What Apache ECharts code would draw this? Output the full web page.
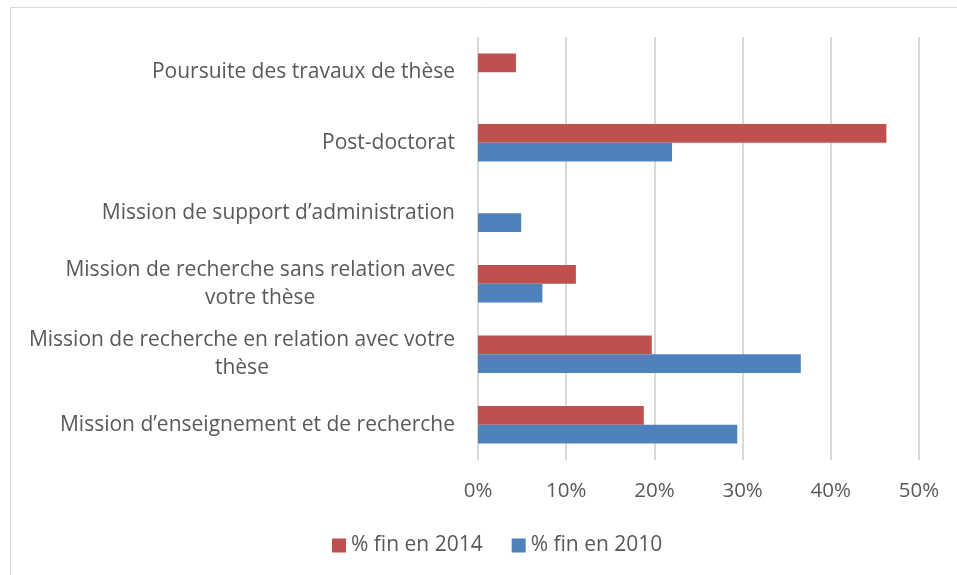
<!DOCTYPE html>
<html>
<head>
<meta charset="utf-8">
<script src="https://cdn.jsdelivr.net/npm/echarts@6/dist/echarts.min.js"></script>
<style>
  html, body { margin: 0; padding: 0; background: #fff; }
  #main { width: 957px; height: 575px; }
</style>
</head>
<body>
<div id="main"></div>
<script>
// catégories (du bas vers le haut)
var categories = [
  "Mission d\u2019enseignement et de recherche",
  "Mission de recherche en relation avec votre\nthèse",
  "Mission de recherche sans relation avec\nvotre thèse",
  "Mission de support d\u2019administration",
  "Post-doctorat",
  "Poursuite des travaux de thèse"
];
var fin2014 = [18.8, 19.7, 11.1, 0, 46.3, 4.3];
var fin2010 = [29.4, 36.6, 7.3, 4.9, 22.0, 0];
var xTicks = [0, 10, 20, 30, 40, 50];

var myChart = echarts.init(document.getElementById("main"));

var textColor = "#595959";
var font = "Open Sans";

var option = {
  animation: false,
  graphic: [
    {
      type: "rect",
      shape: { x: 10.5, y: 7.5, width: 1000, height: 700 },
      style: { fill: "none", stroke: "#d9d9d9", lineWidth: 1 },
      silent: true
    }
  ],
  legend: {
    bottom: 14,
    left: 327,
    data: ["% fin en 2014", "% fin en 2010"],
    icon: "rect",
    itemWidth: 14,
    itemHeight: 14,
    itemGap: 29,
    textStyle: { color: textColor, fontSize: 21, fontFamily: font }
  },
  grid: {
    left: 478,
    right: 38,
    top: 37,
    bottom: 115
  },
  xAxis: {
    type: "value",
    min: xTicks[0],
    max: xTicks[xTicks.length - 1],
    interval: 10,
    axisLine: { show: false },
    axisTick: { show: false },
    axisLabel: {
      color: textColor,
      fontSize: 20.5,
      fontFamily: font,
      margin: 21,
      formatter: "{value}%"
    },
    splitLine: {
      show: true,
      lineStyle: { color: "#d9d9d9", width: 2 }
    }
  },
  yAxis: {
    type: "category",
    data: categories,
    axisLine: { show: false },
    axisTick: { show: false },
    axisLabel: {
      color: textColor,
      fontSize: 21,
      fontFamily: font,
      margin: 23,
      lineHeight: 28,
      formatter: function (v) {
        return v.split("\n").map(function (s) { return "{c|" + s + "}"; }).join("\n");
      },
      rich: {
        c: { align: "center", color: textColor, fontSize: 21, fontFamily: font, lineHeight: 28 }
      }
    }
  },
  series: [
    {
      name: "% fin en 2014",
      type: "bar",
      data: fin2014,
      barGap: 0,
      barCategoryGap: "47%",
      itemStyle: { color: "#c0504d" }
    },
    {
      name: "% fin en 2010",
      type: "bar",
      data: fin2010,
      barGap: 0,
      barCategoryGap: "47%",
      itemStyle: { color: "#4f81bd" }
    }
  ]
};

myChart.setOption(option);
</script>
</body>
</html>
